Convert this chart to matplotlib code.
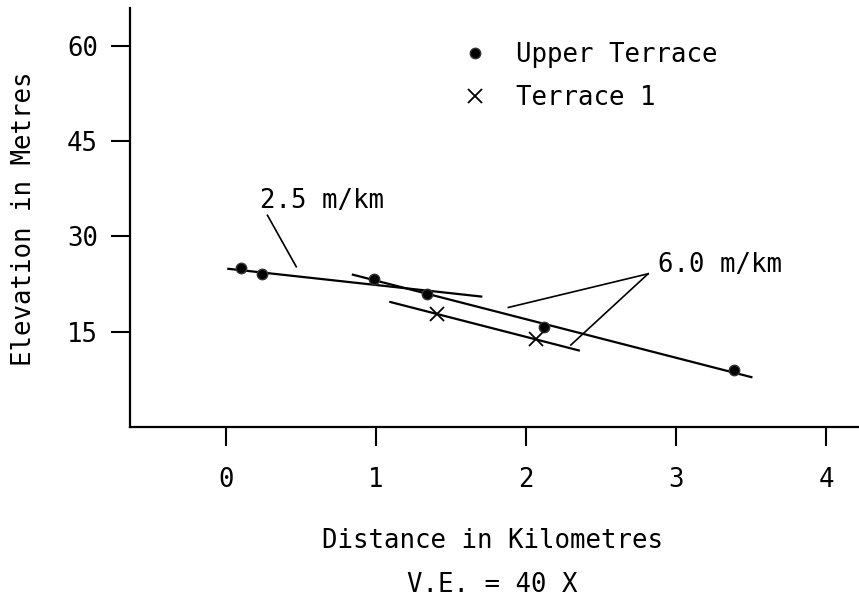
import matplotlib
matplotlib.use("Agg")
import matplotlib.pyplot as plt

# Upper terrace survey points (km, m)
upper_x = [0.10, 0.24, 0.99, 1.34, 2.12, 3.39]
upper_y = [25.0, 24.0, 23.2, 20.9, 15.8, 9.0]

# Terrace 1 survey points
t1_x = [1.41, 2.07]
t1_y = [17.8, 13.9]

# fitted gradient lines (start/end)
grad_a_x = [0.01, 1.71]
grad_a_y = [24.9, 20.5]
grad_b_x = [0.84, 3.51]
grad_b_y = [24.0, 7.8]
grad_c_x = [1.09, 2.36]
grad_c_y = [19.7, 12.0]

x_ticks = [0, 1, 2, 3, 4]
y_ticks = [15, 30, 45, 60]

FONT = "DejaVu Sans Mono"
FS = 18.5


def main():
    plt.rcParams['font.family'] = FONT
    fig = plt.figure(figsize=(8.59, 5.98), dpi=100)
    ax = fig.add_axes([130 / 859, 1 - 427 / 598, 729 / 859, 419 / 598])

    ax.set_xlim(-0.638, 4.22)
    ax.set_ylim(0, 65.9)

    lw = 1.6
    for xs, ys in [(grad_a_x, grad_a_y), (grad_b_x, grad_b_y), (grad_c_x, grad_c_y)]:
        ax.plot(xs, ys, color='black', lw=lw, solid_capstyle='butt')

    ax.plot(upper_x, upper_y, 'o', color='black', ms=7.5, mec='#333', label='Upper Terrace')
    ax.plot(t1_x, t1_y, 'x', color='black', ms=10, mew=1.3, label='Terrace 1')

    # slope annotations
    ax.text(0.229, 35.5, "2.5 m/km", fontsize=FS, va='center', ha='left')
    ax.plot([0.278, 0.47], [33.3, 25.2], color='black', lw=1.2)
    ax.text(2.88, 25.5, "6.0 m/km", fontsize=FS, va='center', ha='left')
    ax.plot([2.815, 1.883], [24.1, 18.8], color='black', lw=1.2)
    ax.plot([2.815, 2.30], [24.1, 12.9], color='black', lw=1.2)

    ax.legend(loc='upper left', bbox_to_anchor=(0.455, 0.918), frameon=False,
              fontsize=FS, handlelength=1.0, handletextpad=1.1,
              labelspacing=0.65, borderpad=0, borderaxespad=0)

    for side in ['top', 'right']:
        ax.spines[side].set_visible(False)
    for side in ['left', 'bottom']:
        ax.spines[side].set_linewidth(1.6)

    ax.set_xticks(x_ticks)
    ax.set_yticks(y_ticks)
    ax.tick_params(axis='both', direction='out', length=14, width=1.5, labelsize=FS)
    ax.tick_params(axis='x', pad=15)
    ax.tick_params(axis='y', pad=9)

    ax.set_ylabel("Elevation in Metres", fontsize=FS)
    ax.yaxis.set_label_coords(-0.128, 0.496)
    ax.set_xlabel("Distance in Kilometres", fontsize=FS)
    ax.xaxis.set_label_coords(0.497, -0.24)
    ax.text(0.497, -0.377, "V.E. = 40 X", fontsize=FS, transform=ax.transAxes,
            ha='center', va='center')

    fig.savefig("out.png", dpi=100)


if __name__ == "__main__":
    main()
